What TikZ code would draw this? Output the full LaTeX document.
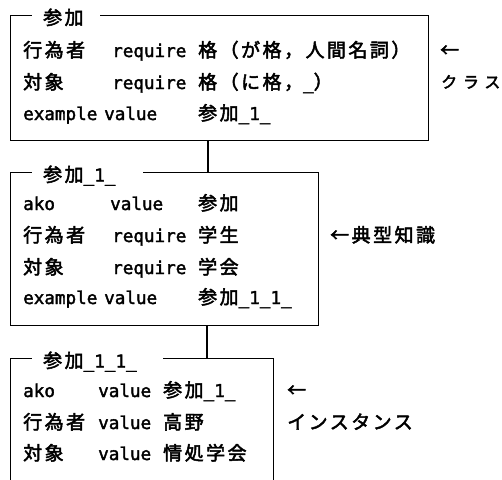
\documentclass[tikz,border=0pt]{standalone}
\usepackage{fontspec}
\newfontfamily\jpfam{Noto Sans CJK JP}[LetterSpace=13, FakeBold=2.5]
\newfontfamily\jpwidefam{Noto Sans CJK JP}[LetterSpace=36, FakeBold=2.5]
\newfontfamily\ltfam{DejaVu Sans Mono}[FakeBold=2]
\newcommand{\jpf}{\fontsize{19}{19}\selectfont\jpfam}
\newcommand{\jpwf}{\fontsize{16}{19}\selectfont\jpwidefam}
\newcommand{\ltf}{\fontsize{17.6}{19}\selectfont\ltfam}
\newcommand{\Lt}[1]{{\ltf #1}}
\begin{document}
\begin{tikzpicture}[x=1pt,y=-1pt,
  framebox/.style={draw, line width=1.2pt, anchor=north west, inner sep=0pt},
  conn/.style={draw, line width=1.2pt},
  cell/.style={anchor=base west, inner sep=0pt, font=\jpf},
  ttl/.style={anchor=base west, fill=white, inner xsep=11pt, inner ysep=2pt, align=left, font=\jpf}]
\useasboundingbox (0,0) rectangle (502,479);
\clip (0,0) rectangle (502,479);
% boxes
\node[framebox, minimum width=418pt, minimum height=125pt] (b1) at (10,15) {};
\node[framebox, minimum width=308pt, minimum height=153pt] (b2) at (10,172) {};
\node[framebox, minimum width=263pt, minimum height=160pt] (b3) at (10,358) {};
% titles
\node[ttl, text width=46pt] (t1) at (32,24.5) {参加};
\node[ttl, text width=89pt] (t2) at (32,181.5) {参加\Lt{\_1\_}};
\node[ttl, text width=109pt] (t3) at (32,367.5) {参加\Lt{\_1\_1\_}};
% connectors
\coordinate (k1) at (208,0);
\coordinate (k2) at (207,0);
\draw[conn] (b1.south -| k1) -- (b2.north -| k1);
\draw[conn] (b2.south -| k2) -- (b3.north -| k2);
% box 1 rows
\node[cell] (r11a) at (23,57) {行為者};
\node[cell] (r11b) at (112,57) {\Lt{require}};
\node[cell] (r11c) at (198,57) {格（が格，人間名詞）};
\node[cell] (r12a) at (23,89) {対象};
\node[cell] (r12b) at (112,89) {\Lt{require}};
\node[cell] (r12c) at (198,89) {格（に格，\Lt{\_}）};
\node[cell] (r13a) at (23,120) {\Lt{example}};
\node[cell] (r13b) at (104,120) {\Lt{value}};
\node[cell] (r13c) at (198,120) {参加\Lt{\_1\_}};
% box 2 rows
\node[cell] (r21a) at (23,210) {\Lt{ako}};
\node[cell] (r21b) at (110,210) {\Lt{value}};
\node[cell] (r21c) at (198,210) {参加};
\node[cell] (r22a) at (23,242) {行為者};
\node[cell] (r22b) at (112,242) {\Lt{require}};
\node[cell] (r22c) at (198,242) {学生};
\node[cell] (r23a) at (23,274) {対象};
\node[cell] (r23b) at (112,274) {\Lt{require}};
\node[cell] (r23c) at (198,274) {学会};
\node[cell] (r24a) at (23,304) {\Lt{example}};
\node[cell] (r24b) at (104,304) {\Lt{value}};
\node[cell] (r24c) at (198,304) {参加\Lt{\_1\_1\_}};
% box 3 rows
\node[cell] (r31a) at (23,397) {\Lt{ako}};
\node[cell] (r31b) at (98,397) {\Lt{value}};
\node[cell] (r31c) at (163,397) {参加\Lt{\_1\_}};
\node[cell] (r32a) at (23,429) {行為者};
\node[cell] (r32b) at (98,429) {\Lt{value}};
\node[cell] (r32c) at (163,429) {高野};
\node[cell] (r33a) at (23,460) {対象};
\node[cell] (r33b) at (98,460) {\Lt{value}};
\node[cell] (r33c) at (163,460) {情処学会};
% side labels
\node[cell] (s1a) at (440,57) {←};
\node[cell, font=\jpwf] (s1b) at (441,88) {クラス};
\node[cell] (s2) at (330,242) {←典型知識};
\node[cell] (s3a) at (287,397) {←};
\node[cell] (s3b) at (287,429) {インスタンス};
\end{tikzpicture}
\end{document}
